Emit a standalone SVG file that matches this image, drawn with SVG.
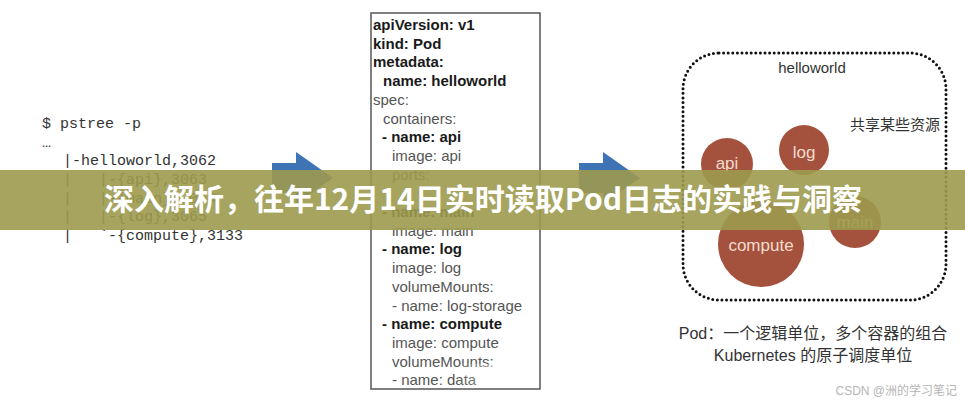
<svg xmlns="http://www.w3.org/2000/svg" width="965" height="400" viewBox="0 0 965 400">
<defs>
<style>
.code{font-family:"Liberation Mono","DejaVu Sans Mono",monospace;font-size:15px;fill:#333}
.y{font-family:"Liberation Sans",Arial,sans-serif;font-size:15px;fill:#555}
.yb{font-family:"Liberation Sans",Arial,sans-serif;font-size:15px;font-weight:bold;fill:#1a1a1a}
.lbl{font-family:"Liberation Sans",Arial,sans-serif;font-size:17px;fill:#f3dccd;text-anchor:middle}
.cap{font-family:"Liberation Sans","Noto Sans CJK SC",sans-serif;font-size:16px;fill:#333;text-anchor:middle}
.ctr{fill:#a4523d}
.arrow{fill:#3f74b4}
</style>
<linearGradient id="fade" x1="0" y1="0" x2="1" y2="0">
<stop offset="0" stop-color="#fff" stop-opacity="0"/>
<stop offset="1" stop-color="#fff" stop-opacity="0.95"/>
</linearGradient>
</defs>
<rect width="965" height="400" fill="#fff"/>

<g id="pstree">
<text class="code" x="42" y="128">$ pstree -p</text>
<text class="code" x="42" y="147">…</text>
<text class="code" x="63" y="165">|-helloworld,3062</text>
<text class="code" x="63" y="184">|</text>
<text class="code" x="99" y="184">|-{api},3063</text>
<text class="code" x="63" y="203">|</text>
<text class="code" x="99" y="203">|-{main},3064</text>
<text class="code" x="63" y="221">|</text>
<text class="code" x="99" y="221">|-{log},3065</text>
<text class="code" x="63" y="240">|</text>
<text class="code" x="99" y="240">`-{compute},3133</text>
</g>

<g id="yaml">
<rect x="371" y="13" width="169" height="376" fill="#fff" stroke="#555" stroke-width="1.5"/>
<text class="yb" x="373" y="30">apiVersion: v1</text>
<text class="yb" x="373" y="48.7">kind: Pod</text>
<text class="yb" x="373" y="67.4">metadata:</text>
<text class="yb" x="383" y="86.1">name: helloworld</text>
<text class="y" x="373" y="104.8">spec:</text>
<text class="y" x="383" y="123.5">containers:</text>
<text class="yb" x="382" y="142.2">- name: api</text>
<text class="y" x="392" y="160.9">image: api</text>
<text class="y" x="392" y="179.6">ports:</text>
<text class="yb" x="382" y="217">- name: main</text>
<text class="y" x="392" y="235.7">image: main</text>
<text class="yb" x="382" y="254.4">- name: log</text>
<text class="y" x="392" y="273.1">image: log</text>
<text class="y" x="392" y="291.8">volumeMounts:</text>
<text class="y" x="392" y="310.5">- name: log-storage</text>
<text class="yb" x="382" y="329.2">- name: compute</text>
<text class="y" x="392" y="347.9">image: compute</text>
<text class="y" x="392" y="366.6">volumeMounts:</text>
<text class="y" x="392" y="385.3">- name: data</text>
<rect x="455" y="364" width="84" height="24" fill="url(#fade)"/>
</g>

<g id="connectors">
<polygon class="arrow" points="272,163 296,163 296,152 333,178 296,204 296,193 272,193"/>
<polygon class="arrow" points="579,163 603,163 603,152 640,178 603,204 603,193 579,193"/>
</g>

<g id="pod">
<rect x="683" y="53" width="263" height="247" rx="36" ry="36" fill="none" stroke="#111" stroke-width="3" stroke-dasharray="0 4.6" stroke-linecap="round"/>
<text x="812" y="73" text-anchor="middle" font-family="Liberation Sans, Arial, sans-serif" font-size="15" fill="#333">helloworld</text>
<text x="940" y="130" text-anchor="end" font-family="Noto Sans CJK SC, sans-serif" font-size="15" fill="#333">共享某些资源</text>
</g>

<g id="api"><circle class="ctr" cx="727" cy="164" r="26"/><text class="lbl" x="727" y="169">api</text></g>
<g id="log"><circle class="ctr" cx="804" cy="150" r="25"/><text class="lbl" x="804" y="158">log</text></g>
<g id="main"><circle class="ctr" cx="855" cy="222" r="26"/><text class="lbl" x="855" y="228">main</text></g>
<g id="compute"><circle class="ctr" cx="761" cy="244" r="43"/><text class="lbl" x="761" y="251">compute</text></g>

<g id="caption">
<text class="cap" x="813" y="339">Pod：一个逻辑单位，多个容器的组合</text>
<text class="cap" x="813" y="361">Kubernetes 的原子调度单位</text>
</g>

<text x="957" y="395" text-anchor="end" font-family="Liberation Sans, Noto Sans CJK SC, sans-serif" font-size="12" fill="#b5b5b5">CSDN @洲的学习笔记</text>

<g id="banner">
<rect x="0" y="170" width="965" height="60" fill="#9c9a4e" fill-opacity="0.9"/>
<text x="483" y="210" text-anchor="middle" font-family="Noto Sans CJK SC, sans-serif" font-size="30" font-weight="bold" fill="#fff">深入解析，往年12月14日实时读取Pod日志的实践与洞察</text>
</g>
</svg>
